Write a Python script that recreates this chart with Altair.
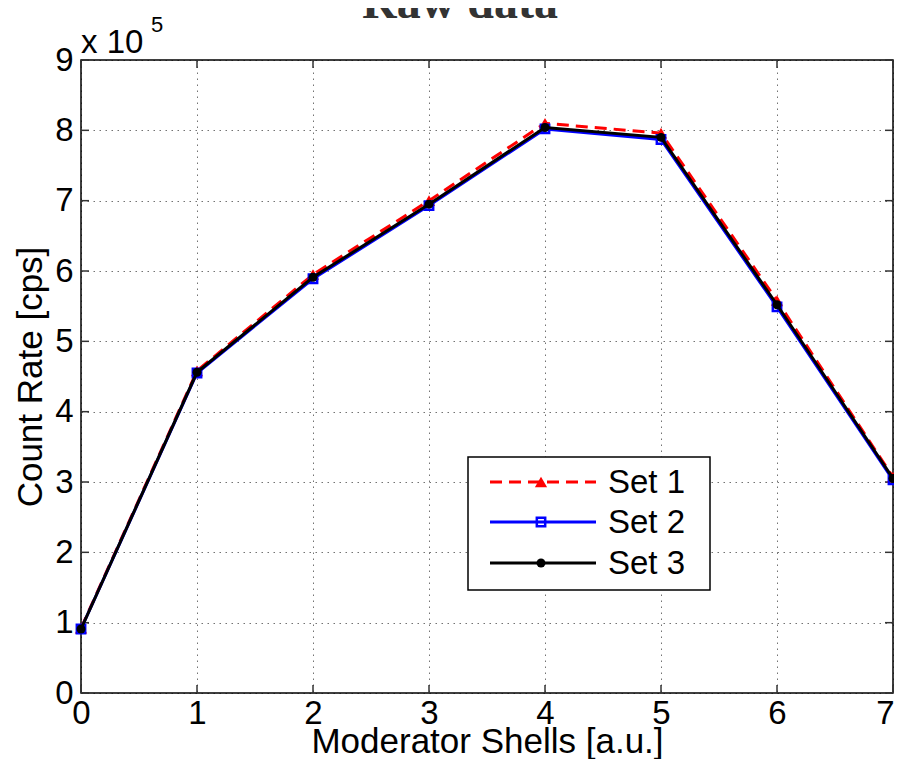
import altair as alt
import pandas as pd

# ---- data ----
shells = [0, 1, 2, 3, 4, 5, 6, 7]
set1 = [92000, 458000, 595000, 700000, 810000, 796000, 558000, 307000]
set2 = [91000, 455000, 589000, 693000, 802000, 787000, 549000, 303000]
set3 = [91000, 456000, 591000, 695000, 804000, 790000, 552000, 305000]
series_names = ["Set 1", "Set 2", "Set 3"]
colors = ["#ff0000", "#0000ff", "#000000"]
x_ticks = [0, 1, 2, 3, 4, 5, 6, 7]
y_ticks = [0, 100000, 200000, 300000, 400000, 500000, 600000, 700000, 800000, 900000]

W, H = 812, 633
FONT = "Liberation Sans"

xs = alt.Scale(domain=[0, 7], nice=False, zero=False)
ys = alt.Scale(domain=[0, 900000], nice=False)

grid_common = dict(grid=True, gridColor="#000000", gridOpacity=0.55, gridDash=[1.5, 4.5],
                   gridWidth=1, ticks=False, tickSize=0, domain=False,
                   labelFont=FONT, labelFontSize=33, labelColor="#000000",
                   titleFont=FONT, titleFontWeight="normal",
                   titleColor="#000000")

xaxis = alt.Axis(values=x_ticks, format="d", title="Moderator Shells [a.u.]",
                 labelPadding=4, titleFontSize=35, titleBaseline="alphabetic", titleY=59,
                 labelOffset={"condition": {"test": "datum.value == 7", "value": -8}, "value": 0},
                 labelFlush=False, **grid_common)
yaxis = alt.Axis(values=y_ticks, labelExpr="datum.value / 100000",
                 title="Count Rate [cps]", labelPadding=8, titlePadding=6, titleFontSize=35,
                 labelFlush=False, **grid_common)

X = alt.X("shell:Q", scale=xs, axis=xaxis)
Y = alt.Y("rate:Q", scale=ys, axis=yaxis)

layers = []

# inward tick marks (MATLAB style) on all four sides
xt = pd.DataFrame({"shell": x_ticks})
yt = pd.DataFrame({"rate": y_ticks})
tick_style = dict(color="#333333", strokeWidth=1.5)
layers.append(alt.Chart(xt).mark_rule(**tick_style).encode(x=X, y=alt.value(H), y2=alt.value(H - 8)))
layers.append(alt.Chart(xt).mark_rule(**tick_style).encode(x=X, y=alt.value(0), y2=alt.value(8)))
layers.append(alt.Chart(yt).mark_rule(**tick_style).encode(y=Y, x=alt.value(0), x2=alt.value(8)))
layers.append(alt.Chart(yt).mark_rule(**tick_style).encode(y=Y, x=alt.value(W), x2=alt.value(W - 8)))

# data series
d1 = pd.DataFrame({"shell": shells, "rate": set1})
d2 = pd.DataFrame({"shell": shells, "rate": set2})
d3 = pd.DataFrame({"shell": shells, "rate": set3})

layers.append(alt.Chart(d1).mark_line(color=colors[0], strokeWidth=3, strokeDash=[12, 7]).encode(x=X, y=Y))
layers.append(alt.Chart(d1).mark_point(shape="triangle-up", filled=True, color=colors[0], size=150, opacity=1).encode(x=X, y=Y))
layers.append(alt.Chart(d2).mark_line(color=colors[1], strokeWidth=3).encode(x=X, y=Y))
layers.append(alt.Chart(d2).mark_point(shape="square", filled=False, color=colors[1], size=70, strokeWidth=2.5, opacity=1).encode(x=X, y=Y))
layers.append(alt.Chart(d3).mark_line(color=colors[2], strokeWidth=3).encode(x=X, y=Y))
layers.append(alt.Chart(d3).mark_point(shape="circle", filled=True, color=colors[2], size=80, opacity=1).encode(x=X, y=Y))

# manual legend (MATLAB style box)
one = pd.DataFrame({"a": [0]})
layers.append(alt.Chart(one).mark_rect(fill="white", stroke="#000000", strokeWidth=1.5).encode(
    x=alt.value(387), x2=alt.value(629), y=alt.value(397), y2=alt.value(530)))
leg_y = [422, 462, 503]
shapes = ["triangle-up", "square", "circle"]
filled = [True, False, True]
sizes = [150, 70, 80]
for i, name in enumerate(series_names):
    rule_kw = dict(color=colors[i], strokeWidth=3)
    if i == 0:
        rule_kw["strokeDash"] = [12, 7]
    layers.append(alt.Chart(one).mark_rule(**rule_kw).encode(
        x=alt.value(409), x2=alt.value(515), y=alt.value(leg_y[i])))
    layers.append(alt.Chart(one).mark_point(shape=shapes[i], filled=filled[i], color=colors[i],
                                            size=sizes[i], strokeWidth=2.5, opacity=1).encode(
        x=alt.value(460), y=alt.value(leg_y[i])))
    layers.append(alt.Chart(one).mark_text(align="left", baseline="middle", font=FONT,
                                           fontSize=33, color="#000000").encode(
        x=alt.value(527), y=alt.value(leg_y[i] + 1), text=alt.value(name)))

# exponent annotation and title
layers.append(alt.Chart(one).mark_text(align="left", baseline="alphabetic", font=FONT,
                                       fontSize=33, color="#000000").encode(
    x=alt.value(0), y=alt.value(-7), text=alt.value("x 10")))
layers.append(alt.Chart(one).mark_text(align="left", baseline="alphabetic", font=FONT,
                                       fontSize=22, color="#000000").encode(
    x=alt.value(70), y=alt.value(-28), text=alt.value("5")))
layers.append(alt.Chart(one).mark_text(align="center", baseline="alphabetic", font="Liberation Serif",
                                       fontSize=48, fontWeight="bold", color="#333333").encode(
    x=alt.value(379), y=alt.value(-42), text=alt.value("Raw data")))

chart = alt.layer(*layers).properties(
    width=W, height=H,
    autosize=alt.AutoSizeParams(type="none"),
    padding={"left": 73, "top": 52, "right": 1, "bottom": 66},
    background="white",
).configure_view(stroke="#000000", strokeWidth=1.5)

chart.save("out.html", embed_options={"renderer": "svg", "actions": False})
